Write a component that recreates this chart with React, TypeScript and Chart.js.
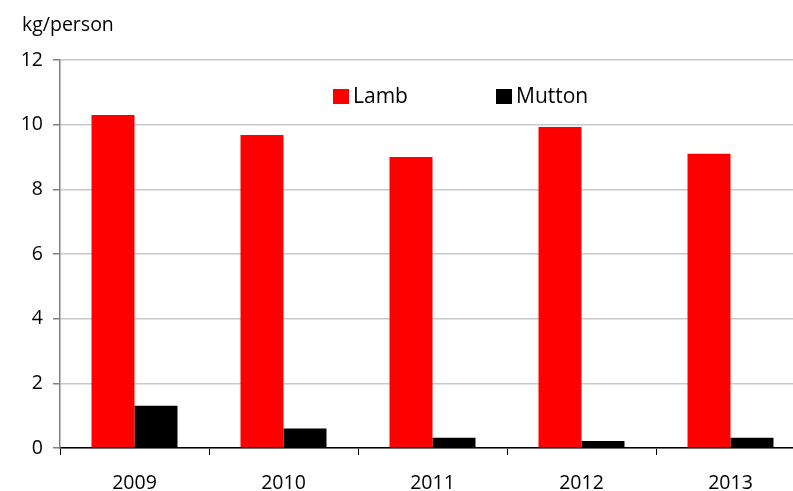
import React, { useEffect, useRef } from "react";
import { Chart, registerables } from "chart.js";

Chart.register(...registerables);

const years = ["2009", "2010", "2011", "2012", "2013"];
const lamb = [10.3, 9.68, 9.0, 9.93, 9.1];
const mutton = [1.31, 0.6, 0.32, 0.22, 0.32];
const unitLabel = "kg/person";
const FONT = "'Open Sans', sans-serif";

const insideLegend = {
  id: "insideLegend",
  afterDatasetsDraw(chart: any) {
    const { ctx, chartArea } = chart;
    const startX = chartArea.left + 273;
    const step = 163;
    const top = chartArea.top + 29;
    ctx.save();
    ctx.font = `21px ${FONT}`;
    ctx.textBaseline = "middle";
    ctx.textAlign = "left";
    chart.data.datasets.forEach((ds: any, i: number) => {
      const x = startX + i * step;
      ctx.fillStyle = ds.backgroundColor;
      ctx.fillRect(x, top, 16, 15);
      ctx.fillStyle = "#000";
      ctx.fillText(ds.label, x + 20, top + 8.5);
    });
    ctx.restore();
  },
};

export default function App() {
  const ref = useRef<HTMLCanvasElement>(null);
  useEffect(() => {
    document.body.style.margin = "0";
    document.body.style.overflow = "hidden";
    const chart = new Chart(ref.current!, {
      type: "bar",
      data: {
        labels: years,
        datasets: [
          { label: "Lamb", data: lamb, backgroundColor: "#ff0000", borderWidth: 0 },
          { label: "Mutton", data: mutton, backgroundColor: "#000000", borderWidth: 0 },
        ],
      },
      options: {
        responsive: false,
        animation: false,
        devicePixelRatio: 1,
        layout: { padding: { left: 22, right: 0, top: 0, bottom: 0 } },
        datasets: { bar: { categoryPercentage: 0.577, barPercentage: 1.0 } },
        plugins: {
          legend: { display: false },
          tooltip: { enabled: false },
          title: {
            display: true,
            text: unitLabel,
            align: "start",
            color: "#000",
            font: { family: FONT, size: 19.5, weight: "normal", lineHeight: 1.2 },
            padding: { top: 13.5, bottom: 23.1 },
          },
        },
        scales: {
          x: {
            afterFit: (s: any) => { s.height = 43; },
            grid: { display: true, drawOnChartArea: false, tickLength: 7, tickColor: "#000", offset: true },
            border: { display: true, color: "#000", width: 1.5 },
            ticks: { color: "#000", font: { family: FONT, size: 19.5 }, padding: 17, maxRotation: 0 },
          },
          y: {
            min: 0,
            max: 12,
            afterFit: (s: any) => { s.width = 38; },
            grid: { color: "#c8c8c8", tickColor: "#808080", tickLength: 7, lineWidth: 1.5 },
            border: { display: true, color: "#808080", width: 1.5 },
            ticks: { stepSize: 2, color: "#000", font: { family: FONT, size: 19.5 }, padding: 10 },
          },
        },
      },
      plugins: [insideLegend],
    });
    return () => chart.destroy();
  }, []);
  return (
    <div style={{ width: 793, height: 491, overflow: "hidden", background: "#fff" }}>
      <canvas ref={ref} width={805} height={491} style={{ display: "block" }} />
    </div>
  );
}
